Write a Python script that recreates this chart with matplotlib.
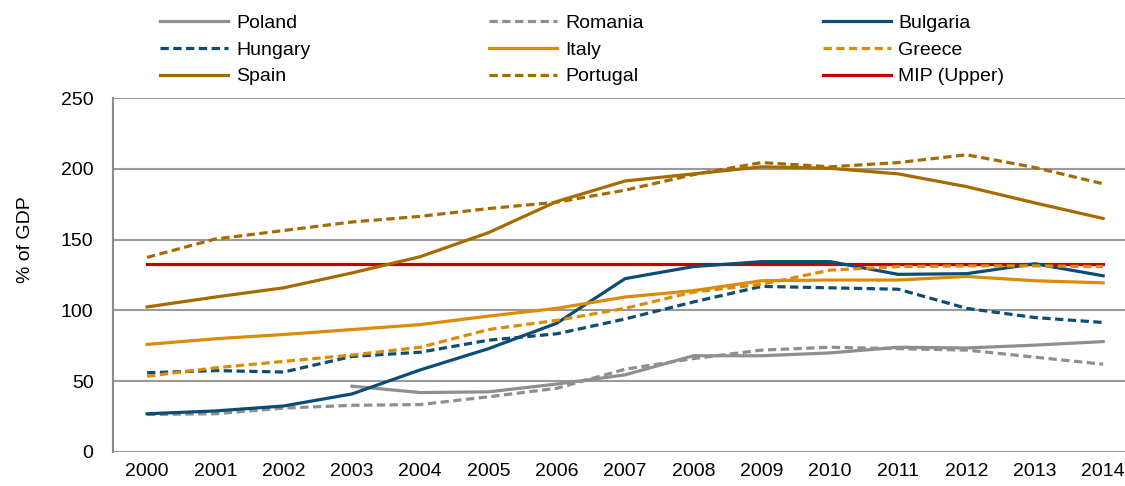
import matplotlib
matplotlib.use("Agg")
import matplotlib.pyplot as plt

plt.rcParams["font.family"] = ["Liberation Sans", "DejaVu Sans"]

years = [str(y) for y in range(2000, 2015)]

poland = [None, None, None, 46.5, 42, 42.5, 48, 54.5, 68, 68, 70, 74, 73.5, 75.5, 78]
romania = [26.5, 27, 31, 33, 33.5, 39, 45, 58.5, 66, 72, 74, 73, 72, 67, 62]
bulgaria = [27, 29, 32.5, 41, 58, 73, 91, 122.5, 131, 134.5, 134.5, 125.5, 126, 133, 124.5]
hungary = [56, 57.5, 56.5, 67.5, 70.5, 79, 83.5, 94, 106, 117, 116, 115, 101.5, 95, 91.5]
italy = [76, 80, 83, 86.5, 90, 96, 101.5, 109.5, 114, 121, 121.5, 121.5, 124, 121, 119.5]
greece = [53.5, 59.5, 64, 68.5, 74, 86.5, 93, 101.5, 113, 118.5, 128.5, 131, 131.5, 131.5, 131]
spain = [102.5, 109.5, 116, 126.5, 138, 155, 177, 191.5, 196.5, 201.5, 200.5, 196.5, 187.5, 176, 165]
portugal = [137.5, 150.5, 156.5, 162.5, 166.5, 172, 176.5, 185, 196, 204.5, 201.5, 204.5, 210, 201, 189.5]
mip_upper = [133] * 15

GRAY = "#8f8f8f"
BLUE = "#0b4d74"
ORANGE = "#dc8b05"
BROWN = "#a66b00"
RED = "#c80000"

series = [
    ("Poland", poland, GRAY, "-"),
    ("Romania", romania, GRAY, "--"),
    ("Bulgaria", bulgaria, BLUE, "-"),
    ("Hungary", hungary, BLUE, "--"),
    ("Italy", italy, ORANGE, "-"),
    ("Greece", greece, ORANGE, "--"),
    ("Spain", spain, BROWN, "-"),
    ("Portugal", portugal, BROWN, "--"),
    ("MIP (Upper)", mip_upper, RED, "-"),
]

fig = plt.figure(figsize=(11.25, 4.86), dpi=100)
ax = fig.add_axes([0.1004, 0.07, 0.8996, 0.728])

x = list(range(len(years)))
handles = []
for name, values, color, style in series:
    pts = [(i, v) for i, v in zip(x, values) if v is not None]
    (line,) = ax.plot(
        [p[0] for p in pts],
        [p[1] for p in pts],
        color=color,
        linewidth=2.3,
        linestyle=style,
        label=name,
        zorder=2 if name == "MIP (Upper)" else 3,
    )
    if style == "--":
        line.set_dashes((2.6, 1.4))
    handles.append(line)

ax.set_xlim(-0.5, 14.32)
ax.set_ylim(0, 250)
ax.set_yticks(range(0, 251, 50))
ax.set_xticks(x)
ax.set_xticklabels(years)
ax.tick_params(axis="both", length=0, labelsize=14, colors="black")
ax.tick_params(axis="y", pad=14)
ax.tick_params(axis="x", pad=8)
ax.grid(axis="y", color="#9a9a9a", linewidth=1.5)
ax.set_axisbelow(True)
for side in ("top", "right", "bottom"):
    ax.spines[side].set_visible(False)
ax.spines["left"].set_color("#8a8a8a")
ax.spines["left"].set_linewidth(1.5)
ax.set_ylabel("% of GDP", fontsize=14)
ax.yaxis.set_label_coords(-0.078, 0.6)

# legend fills column by column, so reorder to read row by row like the original
order = [0, 3, 6, 1, 4, 7, 2, 5, 8]
fig.legend(
    handles=[handles[i] for i in order],
    loc="upper left",
    bbox_to_anchor=(0.127, 1.006),
    ncol=3,
    frameon=False,
    fontsize=14,
    handlelength=3.5,
    handletextpad=0.4,
    columnspacing=9.2,
    labelspacing=0.46,
)

fig.savefig("out.png", dpi=100)
